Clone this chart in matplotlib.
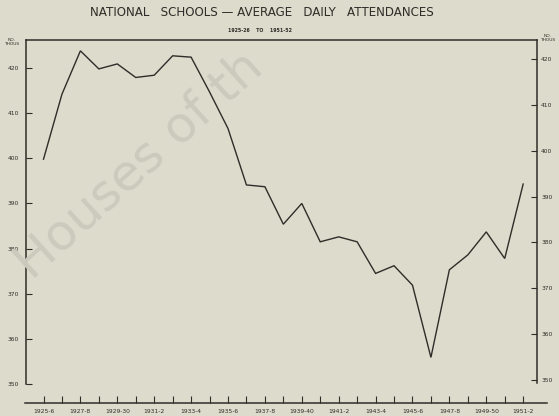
"""National schools - average daily attendances, 1925-26 to 1951-52"""
import numpy as np
import matplotlib
matplotlib.use("Agg")
import matplotlib.pyplot as plt

years = ["1925-6", "1926-7", "1927-8", "1928-9", "1929-30", "1930-1", "1931-2",
         "1932-3", "1933-4", "1934-5", "1935-6", "1936-7", "1937-8", "1938-9",
         "1939-40", "1940-1", "1941-2", "1942-3", "1943-4", "1944-5", "1945-6",
         "1946-7", "1947-8", "1948-9", "1949-50", "1950-1", "1951-2"]
# average daily attendance, thousands
attendance = [399.8, 414.2, 423.8, 419.8, 420.9, 417.9, 418.4,
              422.7, 422.4, 414.7, 406.6, 394.1, 393.7, 385.4,
              390.0, 381.5, 382.6, 381.5, 374.5, 376.2, 371.9,
              355.9, 375.3, 378.6, 383.7, 377.8, 394.3]
yticks = [350, 360, 370, 380, 390, 400, 410, 420]

PAPER = "#dddbcb"
INK = "#2e2d29"
W, H = 559, 416

fig = plt.figure(figsize=(W / 100, H / 100), dpi=100, facecolor=PAPER)

def frac(x0, y0, x1, y1):
    # pixel box (top-left origin) -> figure fraction rect
    return [x0 / W, 1 - y1 / H, (x1 - x0) / W, (y1 - y0) / H]

# library watermark, under everything else
fig.text(6 / W, 1 - 278 / H, "Houses of th", fontsize=36,
         color="#cbcabd", rotation=42, ha="left", va="baseline", zorder=0)

ax = fig.add_axes(frac(26, 40, 537, 403))
ax.set_facecolor("none")
x = np.arange(len(years))
ax.plot(x, attendance, color=INK, lw=1.0, solid_joinstyle="miter")
ax.set_xlim(-0.949, 26.75)
ax.set_ylim(345.8, 426.2)

for s in ("left", "right", "top", "bottom"):
    ax.spines[s].set_color(INK)
    ax.spines[s].set_linewidth(1.1)
ax.spines["right"].set_visible(False)
ax.spines["left"].set_bounds(350, 426.2)
ax.spines["bottom"].set_bounds(-1.0, 27.3)

ax.set_yticks(yticks)
ax.set_yticklabels([str(v) for v in yticks], fontsize=4.3, color=INK)
ax.tick_params(axis="y", direction="in", length=4, width=0.8, color=INK, pad=5)

ax.set_xticks(x)
ax.set_xticklabels([y if i % 2 == 0 else "" for i, y in enumerate(years)],
                   fontsize=4.3, color=INK, family="Liberation Sans Narrow")
ax.tick_params(axis="x", direction="in", length=5, width=0.8, color=INK, pad=4)

# right hand scale, drawn slightly higher than the left one
ax2 = ax.twinx()
ax2.set_ylim(344.98, 424.14)
for s in ("left", "top", "bottom"):
    ax2.spines[s].set_visible(False)
ax2.spines["right"].set_color(INK)
ax2.spines["right"].set_linewidth(1.1)
ax2.spines["right"].set_bounds(349.4, 424.14)
ax2.set_yticks(yticks)
ax2.set_yticklabels([str(v) for v in yticks], fontsize=4.3, color=INK)
ax2.tick_params(axis="y", direction="in", length=4, width=0.8, color=INK, pad=3)

fig.text(12 / W, 1 - 42 / H, "NO.\nTHOUS", fontsize=3.2, color=INK,
         ha="center", va="center", linespacing=0.9)
fig.text(548 / W, 1 - 38 / H, "NO.\nTHOUS", fontsize=3.2, color=INK,
         ha="center", va="center", linespacing=0.9)

fig.text(262 / W, 1 - 13 / H, "NATIONAL   SCHOOLS \u2014 AVERAGE   DAILY   ATTENDANCES",
         fontsize=8.6, color=INK, ha="center", va="center")
fig.text(260 / W, 1 - 31 / H, "1925-26    TO    1951-52", fontsize=3.4,
         color=INK, ha="center", va="center", weight="bold")

fig.savefig("out.png", dpi=100, facecolor=PAPER)
